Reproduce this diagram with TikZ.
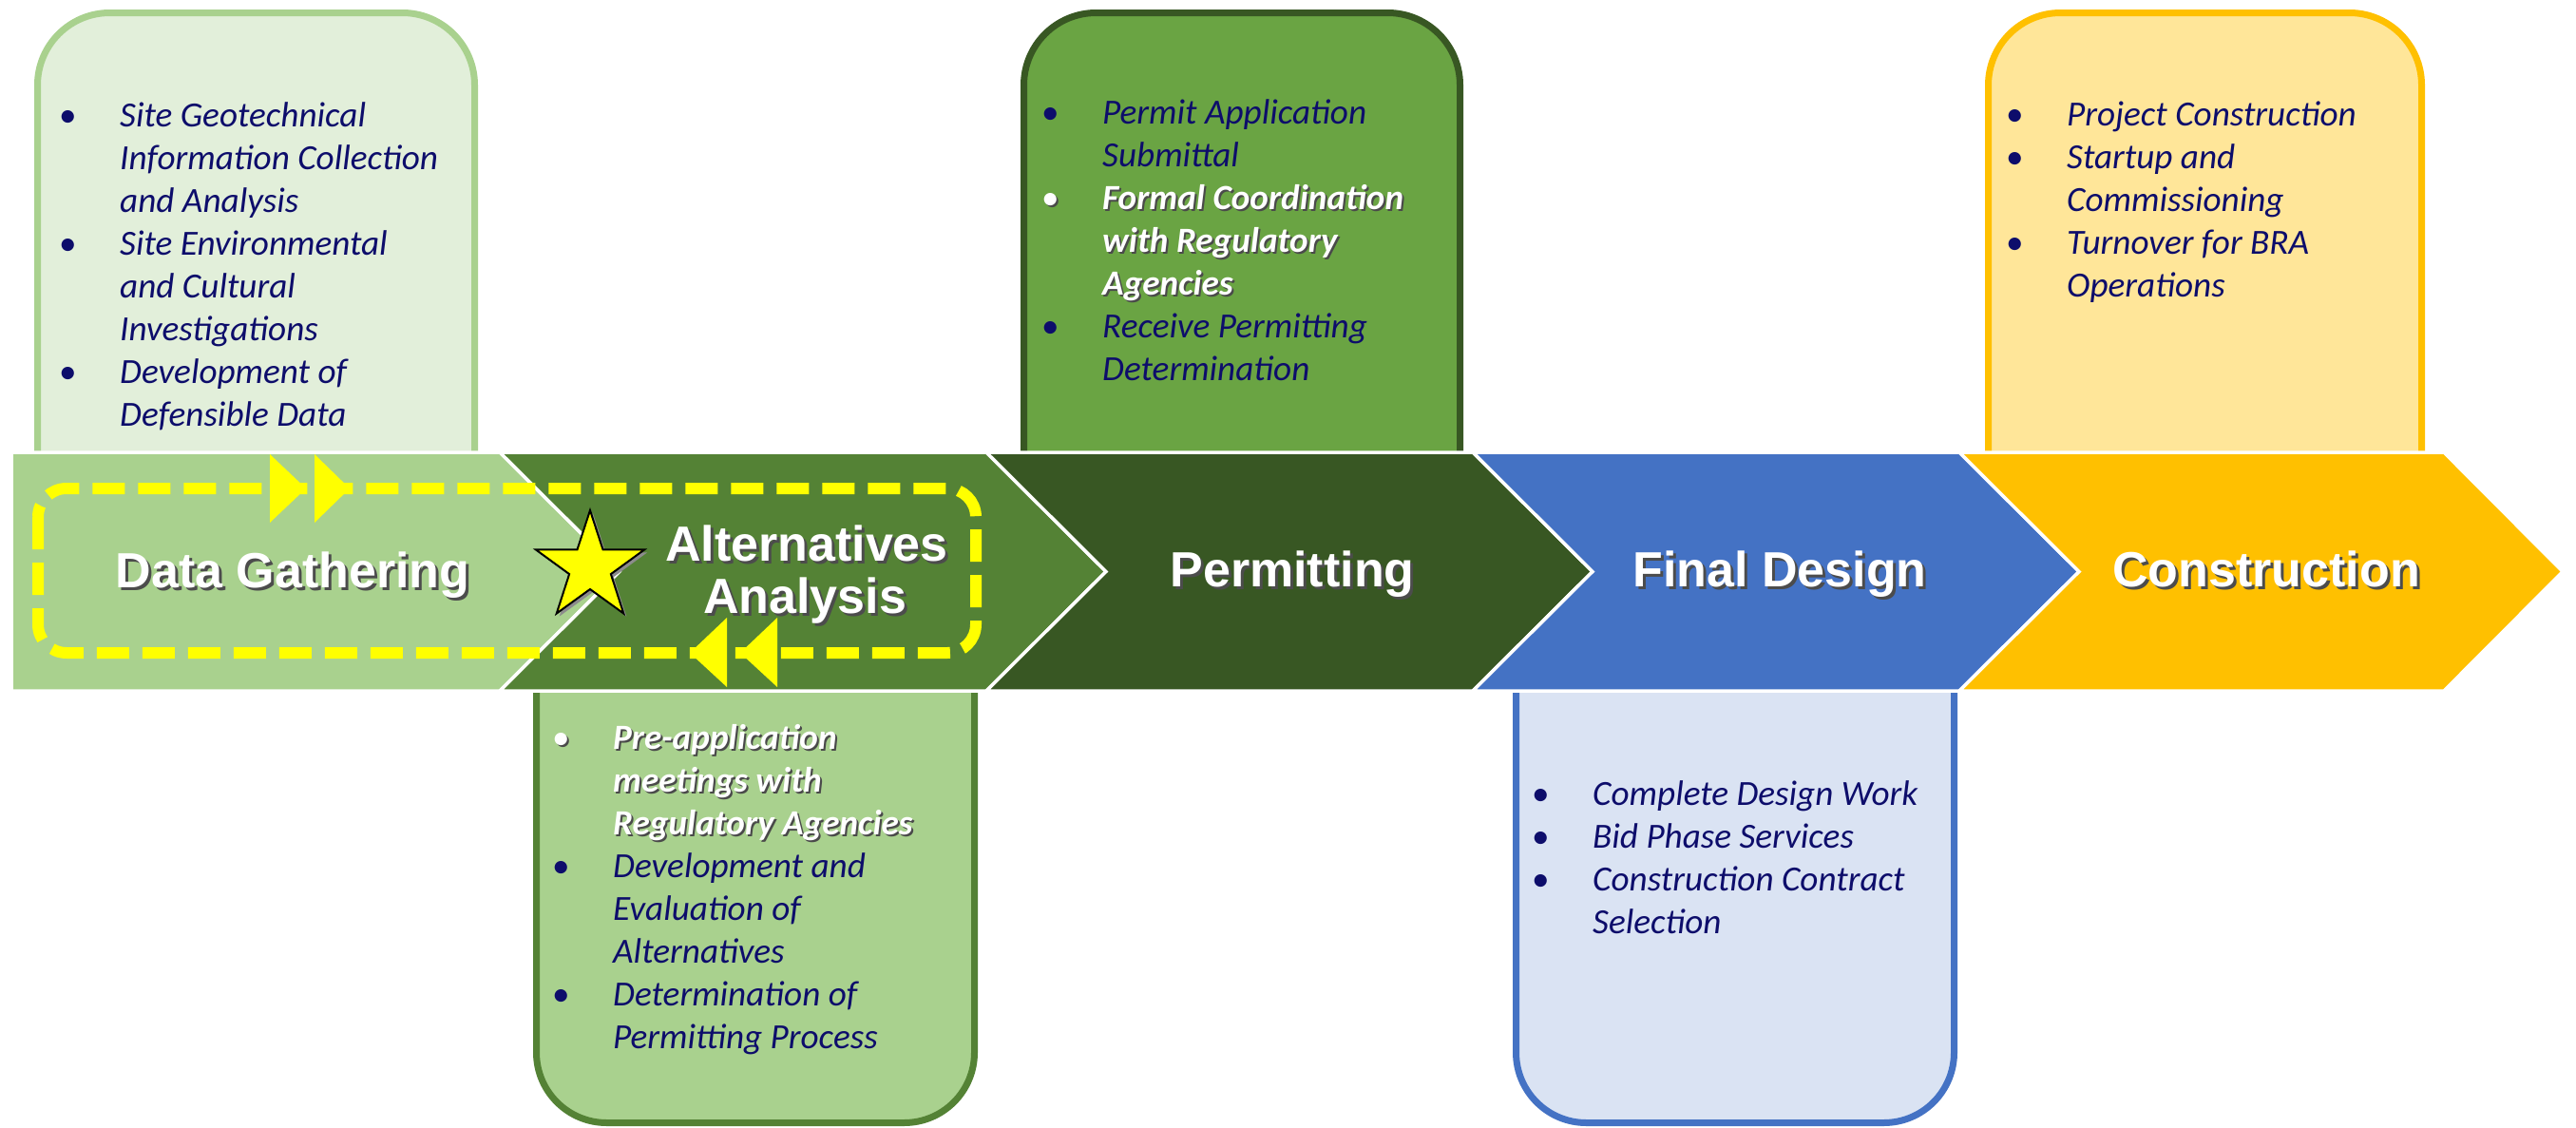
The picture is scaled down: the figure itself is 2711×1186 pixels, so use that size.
\documentclass[tikz,border=0pt]{standalone}
\usepackage{fontspec}
\setmainfont{Carlito}
\newfontfamily\headfont{Liberation Sans}
\definecolor{dgfill}{HTML}{A9D18E}
\definecolor{altfill}{HTML}{548235}
\definecolor{permfill}{HTML}{385723}
\definecolor{fdfill}{HTML}{4472C4}
\definecolor{confill}{HTML}{FFC000}
\definecolor{boxAfill}{HTML}{E2EFDA}
\definecolor{boxCfill}{HTML}{6AA443}
\definecolor{boxDfill}{HTML}{DAE3F3}
\definecolor{boxEfill}{HTML}{FFE699}
\definecolor{navy}{HTML}{0D0D6B}
\definecolor{shadowc}{HTML}{4A4A4A}
\definecolor{loopyellow}{HTML}{FFFF00}
\newcommand\bul{\textup{\textbullet}}
\newcommand\wsh[1]{\makebox[0pt][l]{\hspace{2pt}\raisebox{-2pt}{\textcolor{shadowc}{#1}}}\textcolor{white}{#1}}
\newcommand\hsh[1]{\makebox[0pt][l]{\hspace{3pt}\raisebox{-3pt}{\textcolor{black!70}{#1}}}\textcolor{white}{#1}}
\tikzset{
  callout/.style={line width=7pt},
  band/.style={draw=white, line width=3.5pt, line join=miter},
  listnode/.style={anchor=north west, inner sep=0pt, text=navy, font=\fontsize{37.2}{45}\selectfont\itshape},
  headtxt/.style={anchor=base, inner sep=0pt, font=\headfont\bfseries\fontsize{52}{56}\selectfont},
  looparrow/.style={fill=loopyellow}
}
\begin{document}
\begin{tikzpicture}[x=1pt,y=-1pt]
\useasboundingbox (0,0) rectangle (2711,1186);
\fill[white] (0,0) rectangle (2711,1186);

% callout boxes (behind the band)
\path[callout, fill=boxAfill, draw=dgfill, rounded corners=76pt]
  (39.5,600) -- (39.5,13.5) -- (499.5,13.5) -- (499.5,600);
\path[callout, fill=boxCfill, draw=permfill, rounded corners=76pt]
  (1077.5,600) -- (1077.5,13.5) -- (1536.5,13.5) -- (1536.5,600);
\path[callout, fill=boxEfill, draw=confill, rounded corners=76pt]
  (2092.5,600) -- (2092.5,13.5) -- (2548.5,13.5) -- (2548.5,600);
\path[callout, fill=dgfill, draw=altfill, rounded corners=74pt]
  (564.5,600) -- (564.5,1181.5) -- (1025.5,1181.5) -- (1025.5,600);
\path[callout, fill=boxDfill, draw=fdfill, rounded corners=74pt]
  (1595.5,600) -- (1595.5,1181.5) -- (2056.5,1181.5) -- (2056.5,600);

% chevron band
\path[band, fill=dgfill] (12,476) -- (526,476) -- (652,601.5) -- (526,727) -- (12,727) -- cycle;
\path[band, fill=altfill] (526,476) -- (1038,476) -- (1164,601.5) -- (1038,727) -- (526,727) -- (652,601.5) -- cycle;
\path[band, fill=permfill] (1038,476) -- (1550,476) -- (1676,601.5) -- (1550,727) -- (1038,727) -- (1164,601.5) -- cycle;
\path[band, fill=fdfill] (1550,476) -- (2062,476) -- (2188,601.5) -- (2062,727) -- (1550,727) -- (1676,601.5) -- cycle;
\path[band, fill=confill] (2062,476) -- (2572,476) -- (2697,601.5) -- (2572,727) -- (2062,727) -- (2188,601.5) -- cycle;

% yellow dashed loop with arrows
\draw[loopyellow, line width=12pt, rounded corners=30pt, dash pattern=on 34pt off 14pt]
  (40,514) rectangle (1027,687);
\fill[looparrow] (284,478) -- (322,514) -- (284,550) -- cycle;
\fill[looparrow] (331,478) -- (368,514) -- (331,550) -- cycle;
\fill[looparrow] (765,650) -- (726,687) -- (765,723) -- cycle;
\fill[looparrow] (818,650) -- (779,687) -- (818,723) -- cycle;

% star
\fill[black!45, shift={(3,3)}] (621,537) -- (634.52,578.39) -- (678.06,578.46) -- (642.87,604.11) -- (656.27,645.54) -- (621,620) -- (585.73,645.54) -- (599.13,604.11) -- (563.94,578.46) -- (607.48,578.39) -- cycle;
\draw[fill=loopyellow, draw=black, line width=2pt, line join=miter] (621,537) -- (634.52,578.39) -- (678.06,578.46) -- (642.87,604.11) -- (656.27,645.54) -- (621,620) -- (585.73,645.54) -- (599.13,604.11) -- (563.94,578.46) -- (607.48,578.39) -- cycle;

% headings
\node[headtxt] (hdg1) at (308,618) {\hsh{Data Gathering}};
\node[headtxt] (hdg2a) at (849,590) {\hsh{Alternatives}};
\node[headtxt] (hdg2b) at (847,645) {\hsh{Analysis}};
\node[headtxt] (hdg3) at (1360,617) {\hsh{Permitting}};
\node[headtxt] (hdg4) at (1873,617) {\hsh{Final Design}};
\node[headtxt] (hdg5) at (2385,617) {\hsh{Construction}};

% lists
\node[listnode] (list1) at (62,101.5) {\begin{tabular}{@{}p{64pt}@{}l@{}}
\bul & Site Geotechnical\\
 & Information Collection\\
 & and Analysis\\
\bul & Site Environmental\\
 & and Cultural\\
 & Investigations\\
\bul & Development of\\
 & Defensible Data
\end{tabular}};

\node[listnode] (list2) at (581,756.5) {\begin{tabular}{@{}p{64pt}@{}l@{}}
\wsh{\bul} & \wsh{\bfseries Pre-application}\\
 & \wsh{\bfseries meetings with}\\
 & \wsh{\bfseries Regulatory Agencies}\\
\bul & Development and\\
 & Evaluation of\\
 & Alternatives\\
\bul & Determination of\\
 & Permitting Process
\end{tabular}};

\node[listnode] (list3) at (1096,98.5) {\begin{tabular}{@{}p{64pt}@{}l@{}}
\bul & Permit Application\\
 & Submittal\\
\wsh{\bul} & \wsh{\bfseries Formal Coordination}\\
 & \wsh{\bfseries with Regulatory}\\
 & \wsh{\bfseries Agencies}\\
\bul & Receive Permitting\\
 & Determination
\end{tabular}};

\node[listnode] (list4) at (1612,815.5) {\begin{tabular}{@{}p{64pt}@{}l@{}}
\bul & Complete Design Work\\
\bul & Bid Phase Services\\
\bul & Construction Contract\\
 & Selection
\end{tabular}};

\node[listnode] (list5) at (2111,100.5) {\begin{tabular}{@{}p{64pt}@{}l@{}}
\bul & Project Construction\\
\bul & Startup and\\
 & Commissioning\\
\bul & Turnover for BRA\\
 & Operations
\end{tabular}};
\end{tikzpicture}
\end{document}
